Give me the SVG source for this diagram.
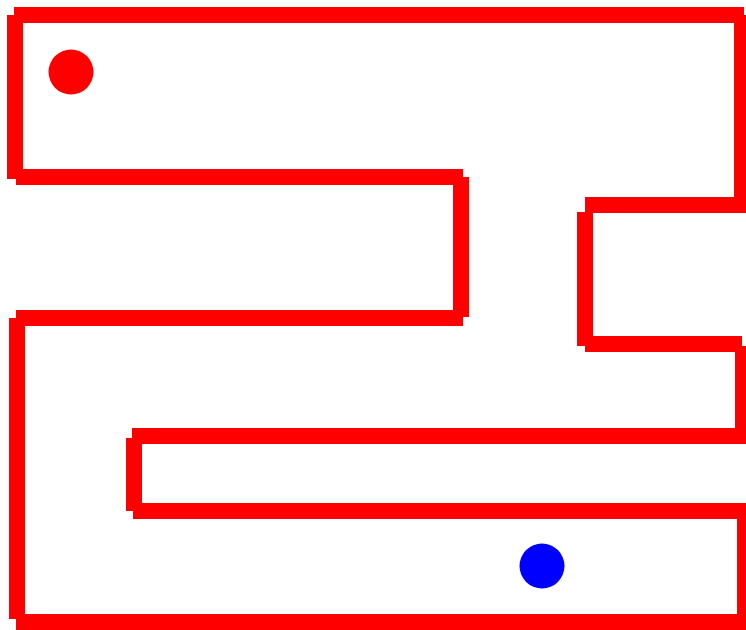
<svg xmlns="http://www.w3.org/2000/svg" width="746" height="630" viewBox="0 0 746 630">
<style>
.w{stroke:#ff0000;stroke-width:16;stroke-linecap:butt;fill:none}
</style>
<rect width="746" height="630" fill="#ffffff"/>
<g id="walls">
<line class="w" x1="14" y1="15" x2="744" y2="15"/>
<line class="w" x1="15" y1="15" x2="15" y2="179"/>
<line class="w" x1="16" y1="177" x2="463" y2="177"/>
<line class="w" x1="461" y1="177" x2="461" y2="317"/>
<line class="w" x1="16" y1="318" x2="463" y2="318"/>
<line class="w" x1="17" y1="318" x2="17" y2="619"/>
<line class="w" x1="742" y1="15" x2="742" y2="213"/>
<line class="w" x1="585" y1="205" x2="744" y2="205"/>
<line class="w" x1="585" y1="212" x2="585" y2="346"/>
<line class="w" x1="585" y1="344" x2="742" y2="344"/>
<line class="w" x1="743" y1="346" x2="743" y2="436"/>
<line class="w" x1="132" y1="436" x2="746" y2="436"/>
<line class="w" x1="134" y1="438" x2="134" y2="511"/>
<line class="w" x1="133" y1="511" x2="746" y2="511"/>
<line class="w" x1="745" y1="511" x2="745" y2="615"/>
<line class="w" x1="16" y1="622" x2="746" y2="622"/>
</g>
<circle id="start" cx="71" cy="72" r="22.5" fill="#ff0000"/>
<circle id="goal" cx="542" cy="566" r="22.5" fill="#0000ff"/>
</svg>
